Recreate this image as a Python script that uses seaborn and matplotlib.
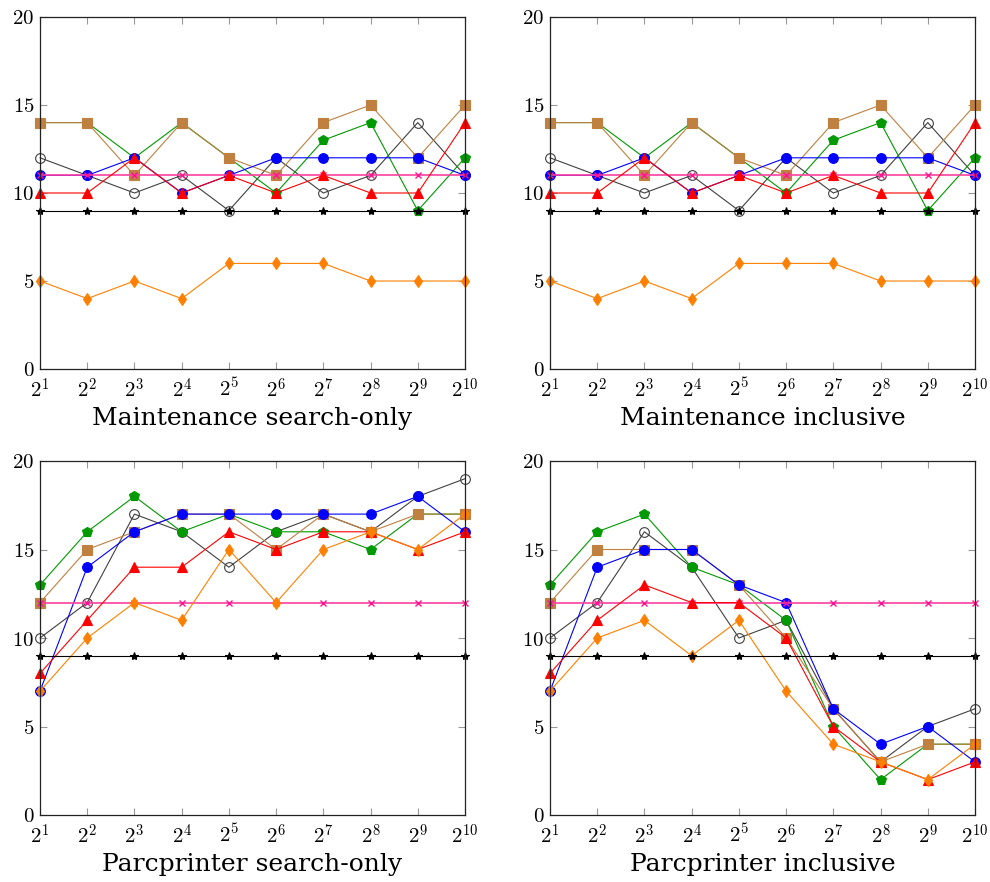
import matplotlib
matplotlib.use("Agg")
import matplotlib.pyplot as plt
import seaborn as sns
import pandas as pd

sns.set_theme(style="white")
plt.rcParams['font.family'] = ['DejaVu Serif']
plt.rcParams['mathtext.fontset'] = 'cm'
plt.rcParams['text.color'] = 'black'
plt.rcParams['axes.labelcolor'] = 'black'
plt.rcParams['xtick.labelcolor'] = 'black'
plt.rcParams['ytick.labelcolor'] = 'black'

x_exp = [1, 2, 3, 4, 5, 6, 7, 8, 9, 10]
x_vals = [2 ** e for e in x_exp]
x_labels = [f"$2^{{{e}}}$" for e in x_exp]
y_ticks = [0, 5, 10, 15, 20]

titles = ["Maintenance search-only", "Maintenance inclusive",
          "Parcprinter search-only", "Parcprinter inclusive"]

# Maintenance (search-only and inclusive are identical)
m_circle_open = [12, 11, 10, 11, 9, 12, 10, 11, 14, 11]
m_green = [14, 14, 12, 14, 12, 10, 13, 14, 9, 12]
m_brown = [14, 14, 11, 14, 12, 11, 14, 15, 12, 15]
m_blue = [11, 11, 12, 10, 11, 12, 12, 12, 12, 11]
m_magenta = [11, 11, 11, 11, 11, 11, 11, 11, 11, 11]
m_red = [10, 10, 12, 10, 11, 10, 11, 10, 10, 14]
m_orange = [5, 4, 5, 4, 6, 6, 6, 5, 5, 5]
m_star = [9, 9, 9, 9, 9, 9, 9, 9, 9, 9]

# Parcprinter search-only
ps_circle_open = [10, 12, 17, 16, 14, 16, 17, 16, 18, 19]
ps_green = [13, 16, 18, 16, 17, 16, 16, 15, 17, 17]
ps_brown = [12, 15, 16, 17, 17, 15, 17, 16, 17, 17]
ps_blue = [7, 14, 16, 17, 17, 17, 17, 17, 18, 16]
ps_magenta = [12, 12, 12, 12, 12, 12, 12, 12, 12, 12]
ps_red = [8, 11, 14, 14, 16, 15, 16, 16, 15, 16]
ps_orange = [7, 10, 12, 11, 15, 12, 15, 16, 15, 17]
ps_star = [9, 9, 9, 9, 9, 9, 9, 9, 9, 9]

# Parcprinter inclusive
pi_circle_open = [10, 12, 16, 14, 10, 11, 6, 3, 5, 6]
pi_green = [13, 16, 17, 14, 13, 11, 5, 2, 4, 4]
pi_brown = [12, 15, 15, 15, 13, 10, 6, 3, 4, 4]
pi_blue = [7, 14, 15, 15, 13, 12, 6, 4, 5, 3]
pi_magenta = [12, 12, 12, 12, 12, 12, 12, 12, 12, 12]
pi_red = [8, 11, 13, 12, 12, 10, 5, 3, 2, 3]
pi_orange = [7, 10, 11, 9, 11, 7, 4, 3, 2, 4]
pi_star = [9, 9, 9, 9, 9, 9, 9, 9, 9, 9]

panels = [
    [m_circle_open, m_green, m_brown, m_blue, m_magenta, m_red, m_orange, m_star],
    [m_circle_open, m_green, m_brown, m_blue, m_magenta, m_red, m_orange, m_star],
    [ps_circle_open, ps_green, ps_brown, ps_blue, ps_magenta, ps_red, ps_orange, ps_star],
    [pi_circle_open, pi_green, pi_brown, pi_blue, pi_magenta, pi_red, pi_orange, pi_star],
]

styles = [
    dict(color="#404040", marker="o", mfc="none", mec="#404040", ms=7, lw=0.8),
    dict(color="#009900", marker="p", mfc="#009900", mec="#009900", ms=7, lw=0.8),
    dict(color="#bf8040", marker="s", mfc="#bf8040", mec="#bf8040", ms=6.5, lw=0.8),
    dict(color="#0000ff", marker="o", mfc="#0000ff", mec="#0000ff", ms=7, lw=0.8),
    dict(color="#ff40a0", marker="x", mfc="#ff1493", mec="#ff1493", ms=4.5, lw=1.2, mew=1.0),
    dict(color="#ff0000", marker="^", mfc="#ff0000", mec="#ff0000", ms=7, lw=0.8),
    dict(color="#ff8000", marker="d", mfc="#ff8000", mec="#ff8000", ms=6, lw=0.8),
    dict(color="#000000", marker="*", mfc="#000000", mec="#000000", ms=6, lw=0.8),
]

fig = plt.figure(figsize=(9.9, 8.82), dpi=100)
W, H = 990, 882
boxes = [(40, 17, 465, 369), (550, 17, 975, 369),
         (40, 461, 465, 815), (550, 461, 975, 815)]

for idx, (l, t, r, b) in enumerate(boxes):
    ax = fig.add_axes([l / W, 1 - b / H, (r - l) / W, (b - t) / H])
    for series, st in zip(panels[idx], styles):
        df = pd.DataFrame({"x": x_vals, "y": series})
        sns.lineplot(data=df, x="x", y="y", ax=ax, color=st["color"],
                     marker=st["marker"], markersize=st["ms"],
                     markerfacecolor=st["mfc"], markeredgecolor=st["mec"],
                     markeredgewidth=st.get("mew", 0.8), linewidth=st["lw"],
                     legend=False, clip_on=False)
    ax.set_xscale("log", base=2)
    ax.set_xlim(x_vals[0], x_vals[-1])
    ax.set_ylim(0, 20)
    ax.set_xticks(x_vals)
    ax.set_xticklabels(x_labels, fontsize=15)
    ax.minorticks_off()
    ax.set_yticks(y_ticks)
    ax.set_yticklabels([f"${v}$" for v in y_ticks], fontsize=15)
    ax.tick_params(axis="both", which="both", direction="in", length=5,
                   width=0.8, color="#999999", top=True, right=True,
                   bottom=True, left=True)
    ax.tick_params(axis="x", pad=6)
    ax.tick_params(axis="y", pad=4)
    for sp in ax.spines.values():
        sp.set_color("#222222")
        sp.set_linewidth(0.9)
    ax.set_ylabel("")
    ax.set_xlabel(titles[idx], fontsize=18, labelpad=4, color="black")
    ax.grid(False)

fig.savefig("out.png", dpi=100)
